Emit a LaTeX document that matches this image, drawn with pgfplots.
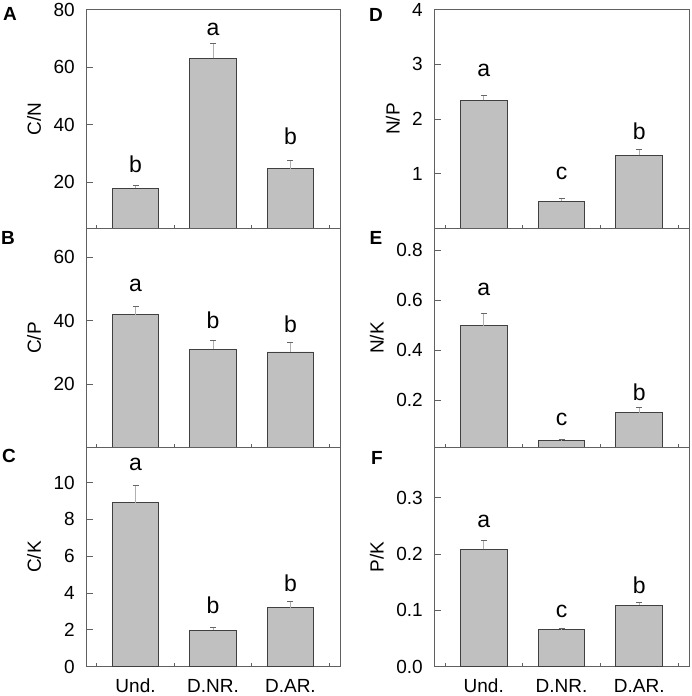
\documentclass[border=0pt]{standalone}
\usepackage{fontspec}
\setmainfont{Liberation Sans}
\usepackage{pgfplots}
\pgfplotsset{compat=1.18}
\newcommand\fsz{\fontsize{19}{22}\selectfont}
\newcommand\lsz{\fontsize{23}{27}\selectfont}
\definecolor{barfill}{HTML}{C0C0C0}
\definecolor{bardraw}{HTML}{404040}
\definecolor{axcol}{HTML}{606060}
\definecolor{errcol}{HTML}{B0B0B0}
\pgfplotsset{
 panel/.style={
  scale only axis, height=219pt,
  xmin=0.36, xmax=3.64,
  axis line style={draw=axcol, line width=0.8pt},
  every tick/.style={draw=axcol, line width=0.7pt},
  tick align=inside, xtick pos=bottom, ytick pos=left,
  xtick={1,2,3}, xticklabels={},
  major x tick style={draw=none},
  minor xtick={0.5,1.5,2.5,3.5},
  minor tick length=3pt, major tick length=7pt,
  /pgf/number format/assume math mode=true,
  tick label style={font=\fsz},
  yticklabel style={inner sep=0pt, xshift=-11pt},
  xticklabel style={inner sep=0pt, yshift=-12.5pt},
  ylabel style={font=\fsz}, ylabel shift=9pt,
 },
 bars/.style={ybar, bar width=0.6, fill=barfill, draw=bardraw, line width=0.9pt,
   error bars/.cd, y dir=plus, y explicit,
   error bar style={draw=errcol, line width=0.6pt},
   error mark options={rotate=90, draw=bardraw!80, line width=0.8pt, mark size=3pt}},
 lett/.style={draw=none, mark=none, nodes near coords, point meta=explicit symbolic,
   every node near coord/.append style={anchor=center, font=\lsz, text=black}},
}
\begin{document}
\begin{tikzpicture}
\useasboundingbox (0,0) rectangle (692pt,696pt);
% A
\begin{axis}[panel, at={(86pt,467.5pt)}, anchor=south west, width=254pt,
  ymin=4, ymax=80, ytick={20,40,60,80}, ylabel={C/N}]
\addplot[bars] coordinates {(1,18.0) +- (0,0.8) (2,63.0) +- (0,5.3) (3,24.8) +- (0,2.7)};
\addplot[lett] coordinates {(1,26.4) [b] (2,73.0) [a] (3,35.9) [b]};
\end{axis}
% B
\begin{axis}[panel, at={(86pt,248.5pt)}, anchor=south west, width=254pt,
  ymin=0, ymax=69, ytick={20,40,60}, ylabel={C/P}]
\addplot[bars] coordinates {(1,41.8) +- (0,2.8) (2,31.0) +- (0,2.7) (3,30.1) +- (0,3.0)};
\addplot[lett] coordinates {(1,51.2) [a] (2,40.2) [b] (3,38.8) [b]};
\end{axis}
% C
\begin{axis}[panel, at={(86pt,29.5pt)}, anchor=south west, width=254pt,
  ymin=0, ymax=11.9, ytick={0,2,4,6,8,10}, ylabel={C/K},
  xticklabels={Und.,D.NR.,D.AR.}]
\addplot[bars] coordinates {(1,8.91) +- (0,0.94) (2,1.97) +- (0,0.18) (3,3.20) +- (0,0.32)};
\addplot[lett] coordinates {(1,11.0) [a] (2,3.34) [b] (3,4.52) [b]};
\end{axis}
% D
\begin{axis}[panel, at={(434pt,467.5pt)}, anchor=south west, width=255pt,
  ymin=0, ymax=4, ytick={1,2,3,4}, ylabel={N/P}]
\addplot[bars] coordinates {(1,2.34) +- (0,0.10) (2,0.50) +- (0,0.056) (3,1.336) +- (0,0.114)};
\addplot[lett] coordinates {(1,2.896) [a] (2,1.013) [c] (3,1.768) [b]};
\end{axis}
% E
\begin{axis}[panel, at={(434pt,248.5pt)}, anchor=south west, width=255pt,
  ymin=0.01, ymax=0.888, ytick={0.2,0.4,0.6,0.8}, ylabel={N/K},
  yticklabel style={/pgf/number format/.cd, fixed, fixed zerofill, precision=1}]
\addplot[bars] coordinates {(1,0.499) +- (0,0.048) (2,0.037) +- (0,0.004) (3,0.150) +- (0,0.020)};
\addplot[lett] coordinates {(1,0.642) [a] (2,0.122) [c] (3,0.232) [b]};
\end{axis}
% F
\begin{axis}[panel, at={(434pt,29.5pt)}, anchor=south west, width=255pt,
  ymin=0, ymax=0.389, ytick={0,0.1,0.2,0.3}, ylabel={P/K},
  yticklabel style={/pgf/number format/.cd, fixed, fixed zerofill, precision=1},
  xticklabels={Und.,D.NR.,D.AR.}]
\addplot[bars] coordinates {(1,0.208) +- (0,0.016) (2,0.065) +- (0,0.003) (3,0.109) +- (0,0.004)};
\addplot[lett] coordinates {(1,0.257) [a] (2,0.097) [c] (3,0.1444) [b]};
\end{axis}
% panel letters
\node[font=\fsz\bfseries] at (10pt,682pt) {A};
\node[font=\fsz\bfseries] at (8pt,458.5pt) {B};
\node[font=\fsz\bfseries] at (9pt,240pt) {C};
\node[font=\fsz\bfseries] at (376pt,681.5pt) {D};
\node[font=\fsz\bfseries] at (376pt,458pt) {E};
\node[font=\fsz\bfseries] at (377pt,238.5pt) {F};
\end{tikzpicture}
\end{document}
